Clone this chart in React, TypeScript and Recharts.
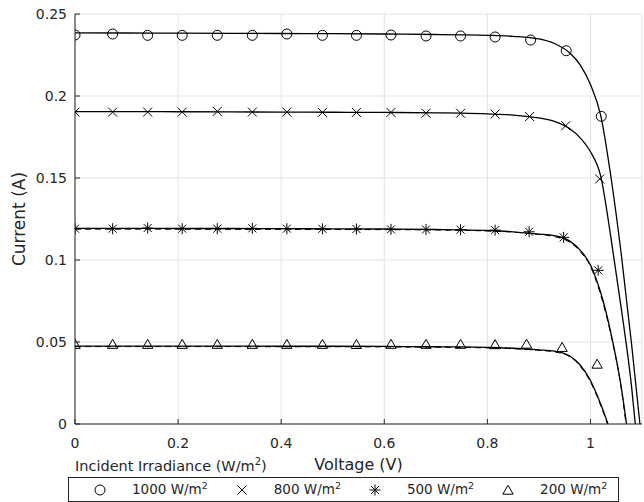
import React from 'react'
import { ComposedChart, Line, Scatter, XAxis, YAxis, CartesianGrid } from 'recharts'

const irradiance = ['1000', '800', '500', '200']
const markerKinds = ['circle', 'cross', 'star', 'triangle']

const xTicks = [0, 0.2, 0.4, 0.6, 0.8, 1]
const yTicks = [0, 0.05, 0.1, 0.15, 0.2, 0.25]

// measured points (markers)
const measV = [0, 0.073, 0.141, 0.208, 0.276, 0.344, 0.411, 0.48, 0.546, 0.613, 0.681, 0.748, 0.815]
const tail1000 = [0.884, 0.953, 1.021]
const tail800 = [0.882, 0.952, 1.018]
const tail500 = [0.881, 0.948, 1.015]
const tail200 = [0.876, 0.945, 1.013]

const meas1000 = [0.2372, 0.2378, 0.237, 0.237, 0.237, 0.237, 0.2378, 0.237, 0.237, 0.2372, 0.2366, 0.2366, 0.236, 0.2341, 0.2276, 0.1876]
const meas800 = [0.1902, 0.1902, 0.1902, 0.1902, 0.1906, 0.1902, 0.1902, 0.19, 0.19, 0.19, 0.1895, 0.1895, 0.189, 0.1875, 0.1819, 0.1494]
const meas500 = [0.1191, 0.1191, 0.1195, 0.1191, 0.1191, 0.1193, 0.1191, 0.119, 0.1189, 0.1187, 0.1186, 0.1185, 0.1182, 0.1172, 0.1138, 0.0937]
const meas200 = [0.0487, 0.0487, 0.0487, 0.0487, 0.0487, 0.0487, 0.0487, 0.0487, 0.0486, 0.0487, 0.0487, 0.0487, 0.0485, 0.0488, 0.0468, 0.0366]

// model curves (solid) and second fit (dashed)
const modelV = [0, 0.1, 0.2, 0.3, 0.4, 0.5, 0.6, 0.7, 0.75, 0.8, 0.85, 0.9, 0.93, 0.96, 0.98, 1.0, 1.02, 1.04, 1.06, 1.08]
const model1000 = [0.2385, 0.2384, 0.2383, 0.2382, 0.2381, 0.238, 0.2378, 0.2375, 0.2373, 0.237, 0.2364, 0.2348, 0.232, 0.2262, 0.219, 0.207, 0.188, 0.15, 0.103, 0.048]
const model800 = [0.1905, 0.1905, 0.1904, 0.1903, 0.1902, 0.1901, 0.19, 0.1897, 0.1895, 0.1891, 0.1884, 0.1866, 0.1845, 0.18, 0.1745, 0.166, 0.151, 0.113, 0.07, 0.022]
const model500 = [0.1193, 0.1193, 0.1192, 0.1192, 0.1191, 0.119, 0.1189, 0.1186, 0.1184, 0.118, 0.1172, 0.1158, 0.1148, 0.1115, 0.106, 0.097, 0.08, 0.055, 0.022, null]
const model200 = [0.0475, 0.0475, 0.0475, 0.0475, 0.0474, 0.0474, 0.0473, 0.0471, 0.047, 0.0467, 0.0462, 0.0452, 0.0445, 0.0415, 0.036, 0.0265, 0.012, null, null, null]
const vOc = [1.096, 1.087, 1.07, 1.034]

const dash500 = [0.1188, 0.1188, 0.1188, 0.1187, 0.1187, 0.1186, 0.1185, 0.1183, 0.1181, 0.1177, 0.117, 0.1156, 0.1143, 0.1108, 0.1052, 0.096, 0.0785, 0.054, 0.021, null]
const dash200 = [0.0472, 0.0472, 0.0472, 0.0472, 0.0471, 0.0471, 0.047, 0.0468, 0.0467, 0.0464, 0.0459, 0.0449, 0.044, 0.041, 0.0353, 0.0257, 0.0112, null, null, null]
const vOcDash = [1.069, 1.033]

const INK = '#262626'
const FONT = '"DejaVu Sans", sans-serif'

type Pt = { v: number; i: number }

const toPoints = (vs: number[], is: (number | null)[]): Pt[] =>
  vs.map((v, k) => ({ v, i: is[k] as number })).filter(p => p.i != null)

const curve = (is: (number | null)[], voc: number): Pt[] => [...toPoints(modelV, is), { v: voc, i: 0 }]

const measured = [
  toPoints([...measV, ...tail1000], meas1000),
  toPoints([...measV, ...tail800], meas800),
  toPoints([...measV, ...tail500], meas500),
  toPoints([...measV, ...tail200], meas200),
]
const models = [
  curve(model1000, vOc[0]),
  curve(model800, vOc[1]),
  curve(model500, vOc[2]),
  curve(model200, vOc[3]),
]
const dashed = [curve(dash500, vOcDash[0]), curve(dash200, vOcDash[1])]

function Marker({ kind, cx, cy }: { kind: string; cx: number; cy: number }) {
  const s = { stroke: '#000', strokeWidth: 1, fill: 'none' }
  if (kind === 'circle') return <circle cx={cx} cy={cy} r={5} {...s} />
  if (kind === 'cross')
    return (
      <path d={`M${cx - 4.5},${cy - 4.5}L${cx + 4.5},${cy + 4.5}M${cx - 4.5},${cy + 4.5}L${cx + 4.5},${cy - 4.5}`} {...s} />
    )
  if (kind === 'star')
    return (
      <path
        d={`M${cx},${cy - 5.5}L${cx},${cy + 5.5}M${cx - 5.5},${cy}L${cx + 5.5},${cy}M${cx - 4},${cy - 4}L${cx + 4},${cy + 4}M${cx - 4},${cy + 4}L${cx + 4},${cy - 4}`}
        {...s}
      />
    )
  return <path d={`M${cx},${cy - 4.8}L${cx + 5.2},${cy + 4.2}L${cx - 5.2},${cy + 4.2}Z`} {...s} />
}

const BottomTick = (p: any) => (
  <g>
    <line x1={p.x} x2={p.x} y1={p.y} y2={p.y - 5} stroke={INK} />
    <text x={p.x} y={p.y + 24} textAnchor="middle" fontSize={14} fill={INK} fontFamily={FONT}>
      {p.payload.value}
    </text>
  </g>
)
const LeftTick = (p: any) => (
  <g>
    <line x1={p.x} x2={p.x + 5} y1={p.y} y2={p.y} stroke={INK} />
    <text x={p.x - 8} y={p.y + 5} textAnchor="end" fontSize={14} fill={INK} fontFamily={FONT}>
      {p.payload.value}
    </text>
  </g>
)
const TopTick = (p: any) => <line x1={p.x} x2={p.x} y1={p.y} y2={p.y + 5} stroke={INK} />
const RightTick = (p: any) => <line x1={p.x} x2={p.x - 5} y1={p.y} y2={p.y} stroke={INK} />

export default function App() {
  return (
    <div style={{ position: 'absolute', left: 0, top: 0, width: 644, height: 502, background: '#fff', fontFamily: FONT }}>
      <ComposedChart width={644} height={502} margin={{ top: 14, right: 2, bottom: 0, left: 0 }}>
        <CartesianGrid stroke="#e3e3e3" />
        <XAxis
          dataKey="v"
          type="number"
          domain={[0, 1.1]}
          ticks={xTicks}
          allowDataOverflow
          height={78}
          tickSize={0}
          tickMargin={0}
          tickLine={false}
          tick={BottomTick}
          axisLine={{ stroke: INK }}
          label={(props: any) => {
            const vb = props.viewBox
            return (
              <text x={vb.x + vb.width / 2} y={vb.y + 46} textAnchor="middle" fontSize={16} fill={INK} fontFamily={FONT}>
                Voltage (V)
              </text>
            )
          }}
        />
        <XAxis
          xAxisId="top"
          orientation="top"
          type="number"
          domain={[0, 1.1]}
          ticks={xTicks}
          allowDataOverflow
          height={0}
          tickSize={0}
          tickMargin={0}
          tickLine={false}
          tick={TopTick}
          axisLine={{ stroke: INK }}
        />
        <YAxis
          dataKey="i"
          type="number"
          domain={[0, 0.25]}
          ticks={yTicks}
          allowDataOverflow
          width={75}
          tickSize={0}
          tickMargin={0}
          tickLine={false}
          tick={LeftTick}
          axisLine={{ stroke: INK }}
          label={(props: any) => {
            const vb = props.viewBox
            return (
              <text
                transform={`translate(${vb.x + 25},${vb.y + vb.height / 2}) rotate(-90)`}
                textAnchor="middle"
                fontSize={17}
                fill={INK}
                fontFamily={FONT}
              >
                Current (A)
              </text>
            )
          }}
        />
        <YAxis
          yAxisId="right"
          orientation="right"
          type="number"
          domain={[0, 0.25]}
          ticks={yTicks}
          allowDataOverflow
          width={0}
          tickSize={0}
          tickMargin={0}
          tickLine={false}
          tick={RightTick}
          axisLine={{ stroke: INK }}
        />
        {dashed.map((d, k) => (
          <Line
            key={`d${k}`}
            data={d}
            dataKey="i"
            type="monotone"
            stroke="#000"
            strokeWidth={1}
            strokeDasharray="6 4"
            dot={false}
            activeDot={false}
            isAnimationActive={false}
          />
        ))}
        {models.map((d, k) => (
          <Line
            key={`m${k}`}
            data={d}
            dataKey="i"
            type="monotone"
            stroke="#000"
            strokeWidth={1.3}
            dot={false}
            activeDot={false}
            isAnimationActive={false}
          />
        ))}
        {measured.map((d, k) => (
          <Scatter
            key={`s${k}`}
            data={d}
            dataKey="i"
            isAnimationActive={false}
            shape={(p: any) => <Marker kind={markerKinds[k]} cx={p.cx} cy={p.cy} />}
          />
        ))}
      </ComposedChart>

      <div style={{ position: 'absolute', left: 75, top: 459, fontSize: 14.5, lineHeight: 1, color: INK, whiteSpace: 'nowrap' }}>
        Incident Irradiance (W/m<sup style={{ fontSize: 10, lineHeight: 0 }}>2</sup>)
      </div>

      <div
        style={{
          position: 'absolute',
          left: 68,
          top: 477,
          width: 551,
          height: 25,
          boxSizing: 'border-box',
          border: `1px solid ${INK}`,
          background: '#fff',
          display: 'flex',
          alignItems: 'center',
          paddingLeft: 25,
          fontSize: 13.5,
          color: INK,
          whiteSpace: 'nowrap',
        }}
      >
        {irradiance.map((w, k) => (
          <span key={w} style={{ display: 'flex', alignItems: 'center', marginRight: 28 }}>
            <svg width={12} height={12}>
              <Marker kind={markerKinds[k]} cx={6} cy={6} />
            </svg>
            <span style={{ marginLeft: 26, lineHeight: 1 }}>
              {w} W/m<sup style={{ fontSize: 9.5, lineHeight: 0 }}>2</sup>
            </span>
          </span>
        ))}
      </div>
    </div>
  )
}
